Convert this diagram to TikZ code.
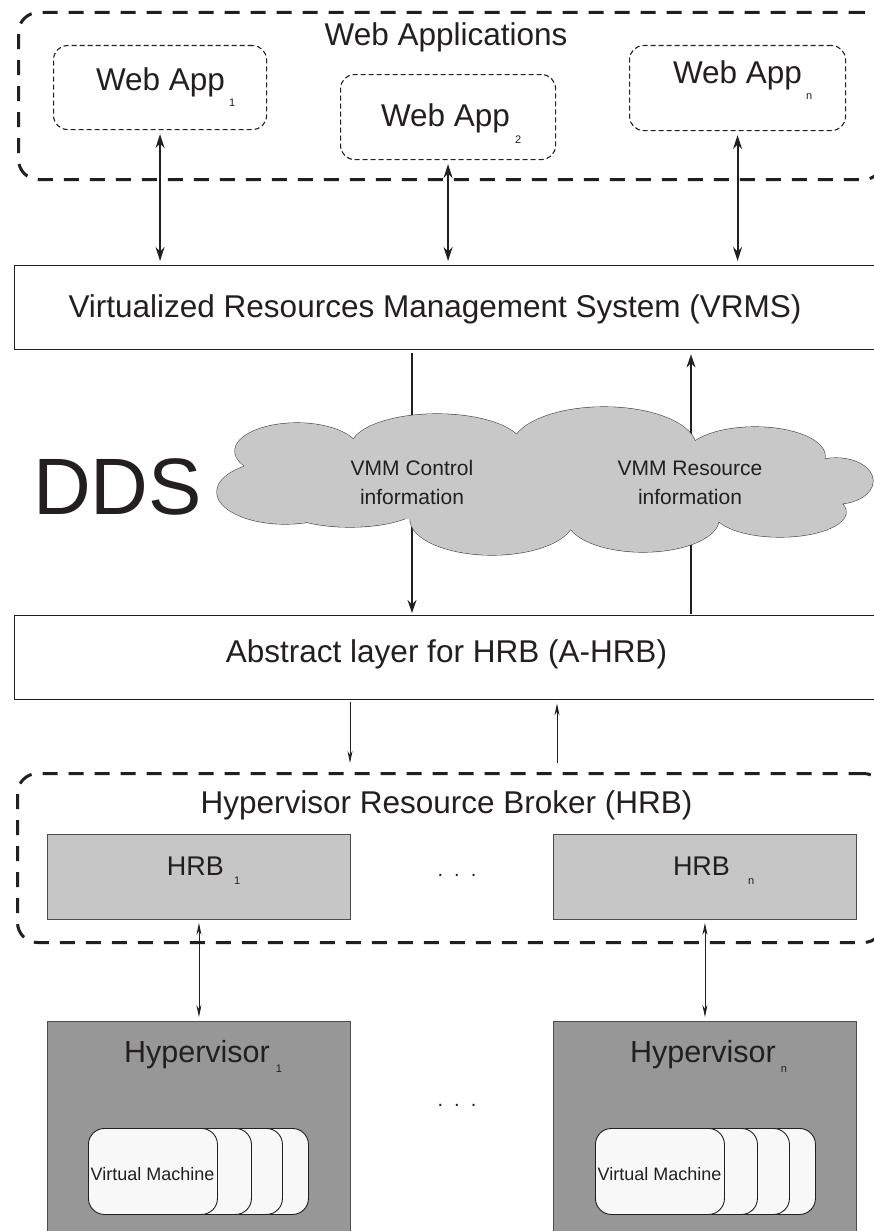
\documentclass[tikz,border=0pt]{standalone}
\usepackage{fontspec}
\setmainfont{Liberation Sans}
\usetikzlibrary{arrows.meta}

\definecolor{ink}{HTML}{231F20}
\definecolor{cloudgray}{HTML}{C8C8C8}
\definecolor{hrbgray}{HTML}{C6C6C6}
\definecolor{hypgray}{HTML}{979797}
\definecolor{vmwhite}{HTML}{F8F8F8}

\newcommand\setfs[1]{\fontsize{#1}{#1}\selectfont}

\begin{document}
\begin{tikzpicture}[x=1pt,y=-1pt,
  group/.style={draw=ink, line width=3pt, dash pattern=on 15pt off 11pt,
    rounded corners=20pt, rectangle, inner sep=0pt, anchor=north west},
  appbox/.style={draw=ink, line width=1.1pt, dash pattern=on 5pt off 3pt,
    rounded corners=14pt, rectangle, inner sep=0pt, anchor=north west},
  layer/.style={draw=ink, line width=1.4pt, fill=white, rectangle,
    inner sep=0pt, anchor=north west},
  hrbbox/.style={draw=ink!80, line width=0.9pt, fill=hrbgray, rectangle,
    inner sep=0pt, anchor=north west},
  hypbox/.style={draw=ink!80, line width=0.9pt, fill=hypgray, rectangle,
    inner sep=0pt, anchor=north west},
  vmcard/.style={draw=ink, line width=0.9pt, fill=vmwhite, rectangle,
    rounded corners=16pt, inner sep=0pt, anchor=north west,
    minimum width=129pt, minimum height=86pt},
  lbl/.style={anchor=base, inner sep=0pt, text=ink},
  big/.style={font=\setfs{31.5}},
  bigarrow/.style={draw=ink, line width=2pt,
    {Stealth[length=14pt,width=9pt]}-{Stealth[length=14pt,width=9pt]},
    shorten <=4pt, shorten >=4pt},
  midarrow/.style={draw=ink, line width=1.6pt, -{Stealth[length=13pt,width=9pt]}},
  thinarrow/.style={draw=ink, line width=0.9pt, -{Stealth[length=12pt,width=5pt]}},
  thinboth/.style={draw=ink, line width=0.9pt,
    {Stealth[length=12pt,width=5pt]}-{Stealth[length=12pt,width=5pt]},
    shorten <=3pt, shorten >=4pt},
]
\useasboundingbox (0,0) rectangle (874,1231);
\fill[white] (0,0) rectangle (874,1231);
\clip (0,0) rectangle (874,1231);

% ---------- web applications ----------
\node[group, minimum width=865pt, minimum height=167pt] (webgroup) at (17,11) {};
\node[lbl, big] (webtitle) at (446,46) {Web Applications};

\node[appbox, minimum width=213pt, minimum height=84pt] (app1) at (53,45) {};
\node[appbox, minimum width=215pt, minimum height=85pt] (app2) at (340,74) {};
\node[appbox, minimum width=216pt, minimum height=85pt] (appn) at (629,45) {};

\node[lbl, big] (app1t) at (160.5,90)
  {Web App\rlap{\hspace{4pt}\raisebox{-17pt}{\setfs{11}1}}};
\node[lbl, big] (app2t) at (445.5,126)
  {Web App\rlap{\hspace{5pt}\raisebox{-17pt}{\setfs{11}2}}};
\node[lbl, big] (appnt) at (737.5,83)
  {Web App\rlap{\hspace{4pt}\raisebox{-17pt}{\setfs{11}n}}};

% ---------- VRMS ----------
\node[layer, minimum width=870pt, minimum height=84pt] (vrms) at (14,265) {};
\node[lbl, big] (vrmst) at (435,317)
  {Virtualized Resources Management System (VRMS)};

\draw[bigarrow] (app1.south) -- (app1.south |- vrms.north);
\draw[bigarrow] (app2.south) -- (app2.south |- vrms.north);
\draw[bigarrow] (appn.south) -- (appn.south |- vrms.north);

% ---------- A-HRB ----------
\node[layer, minimum width=870pt, minimum height=84pt] (ahrb) at (14,615) {};
\node[lbl, big] (ahrbt) at (446.5,662) {Abstract layer for HRB (A-HRB)};

% ---------- DDS cloud ----------
\coordinate (ctrlx) at (412,482);
\coordinate (resx) at (691,482);

% connectors pass behind the cloud
\draw[midarrow, shorten <=3pt, shorten >=2pt]
  (vrms.south -| ctrlx) -- (ahrb.north -| ctrlx);
\draw[midarrow, shorten <=1pt, shorten >=4pt]
  (ahrb.north -| resx) -- (vrms.south -| resx);

% outline of the puffs first, then the same puffs filled on top
\def\cloudpuffs{
  (285,492) ellipse [x radius=68, y radius=32]
  (297,451) ellipse [x radius=62, y radius=28]
  (437,447) ellipse [x radius=86, y radius=33]
  (604,447) ellipse [x radius=92, y radius=40]
  (755,456) ellipse [x radius=70, y radius=29]
  (836,481) ellipse [x radius=37, y radius=23]
  (780,512) ellipse [x radius=66, y radius=25]
  (643,519) ellipse [x radius=76, y radius=33]
  (492,519) ellipse [x radius=82, y radius=36]
  (350,505) ellipse [x radius=70, y radius=22]
}
\def\cloudcore{
  (550,482) ellipse [x radius=250, y radius=45]
  (790,484) ellipse [x radius=45, y radius=24]
  (290,478) ellipse [x radius=50, y radius=30]
}
\draw[ink!85, line width=1.1pt] \cloudpuffs;
\fill[cloudgray] \cloudpuffs \cloudcore;
\node[inner sep=0pt] (cloud) at (546,482) {};

\node[lbl, font=\setfs{21}] (ctrl1) at (412,475) {VMM Control};
\node[lbl, font=\setfs{21}] (ctrl2) at (412,504) {information};
\node[lbl, font=\setfs{21}] (res1) at (690,475) {VMM Resource};
\node[lbl, font=\setfs{21}] (res2) at (690,504) {information};

\node[lbl, font=\setfs{80}] (dds) at (117.5,514) {DDS};

% ---------- HRB ----------
\node[group, minimum width=866pt, minimum height=169pt] (hrbgroup) at (16,772) {};
\node[lbl, big] (hrbtitle) at (446.5,813) {Hypervisor Resource Broker (HRB)};

\node[hrbbox, minimum width=303pt, minimum height=85pt] (hrb1) at (47,834) {};
\node[hrbbox, minimum width=303pt, minimum height=85pt] (hrbn) at (553,834) {};
\node[lbl, font=\setfs{27}] (hrb1t) at (195.5,875)
  {HRB\rlap{\hspace{10pt}\raisebox{-9pt}{\setfs{11}1}}};
\node[lbl, font=\setfs{27}] (hrbnt) at (701.5,875)
  {HRB\rlap{\hspace{18pt}\raisebox{-9pt}{\setfs{11}n}}};
\node[lbl, font=\setfs{20}] (hrbdots) at (457,876) {.\hspace{11pt}.\hspace{11pt}.};

\coordinate (downx) at (350,0);
\coordinate (upx) at (557,0);
\draw[thinarrow, shorten <=2pt, shorten >=9pt]
  (ahrb.south -| downx) -- (hrbgroup.north -| downx);
\draw[thinarrow, shorten <=9pt, shorten >=3pt]
  (hrbgroup.north -| upx) -- (ahrb.south -| upx);

% ---------- hypervisors ----------
\node[hypbox, minimum width=303pt, minimum height=230pt] (hyp1) at (47,1021) {};
\node[hypbox, minimum width=303pt, minimum height=230pt] (hypn) at (553,1021) {};

\draw[thinboth] (hrb1.south) -- (hyp1.north);
\draw[thinboth] (hrbn.south) -- (hypn.north);

\node[lbl, font=\setfs{30.5}] (hyp1t) at (197,1062)
  {Hypervisor\rlap{\hspace{6pt}\raisebox{-10pt}{\setfs{11}1}}};
\node[lbl, font=\setfs{30.5}] (hypnt) at (703,1062)
  {Hypervisor\rlap{\hspace{5pt}\raisebox{-10pt}{\setfs{11}n}}};
\node[lbl, font=\setfs{20}] (hypdots) at (457,1106) {.\hspace{11pt}.\hspace{11pt}.};

% virtual machine stacks, back card first
\node[vmcard] (vm1d) at (179,1128) {};
\node[vmcard] (vm1c) at (153,1128) {};
\node[vmcard] (vm1b) at (122,1128) {};
\node[vmcard] (vm1a) at (88,1128) {};
\node[lbl, font=\setfs{18}] (vm1t) at (152.5,1180) {Virtual Machine};

\node[vmcard] (vmnd) at (686,1128) {};
\node[vmcard] (vmnc) at (660,1128) {};
\node[vmcard] (vmnb) at (628,1128) {};
\node[vmcard] (vmna) at (595,1128) {};
\node[lbl, font=\setfs{18}] (vmnt) at (659.5,1180) {Virtual Machine};
\end{tikzpicture}
\end{document}
